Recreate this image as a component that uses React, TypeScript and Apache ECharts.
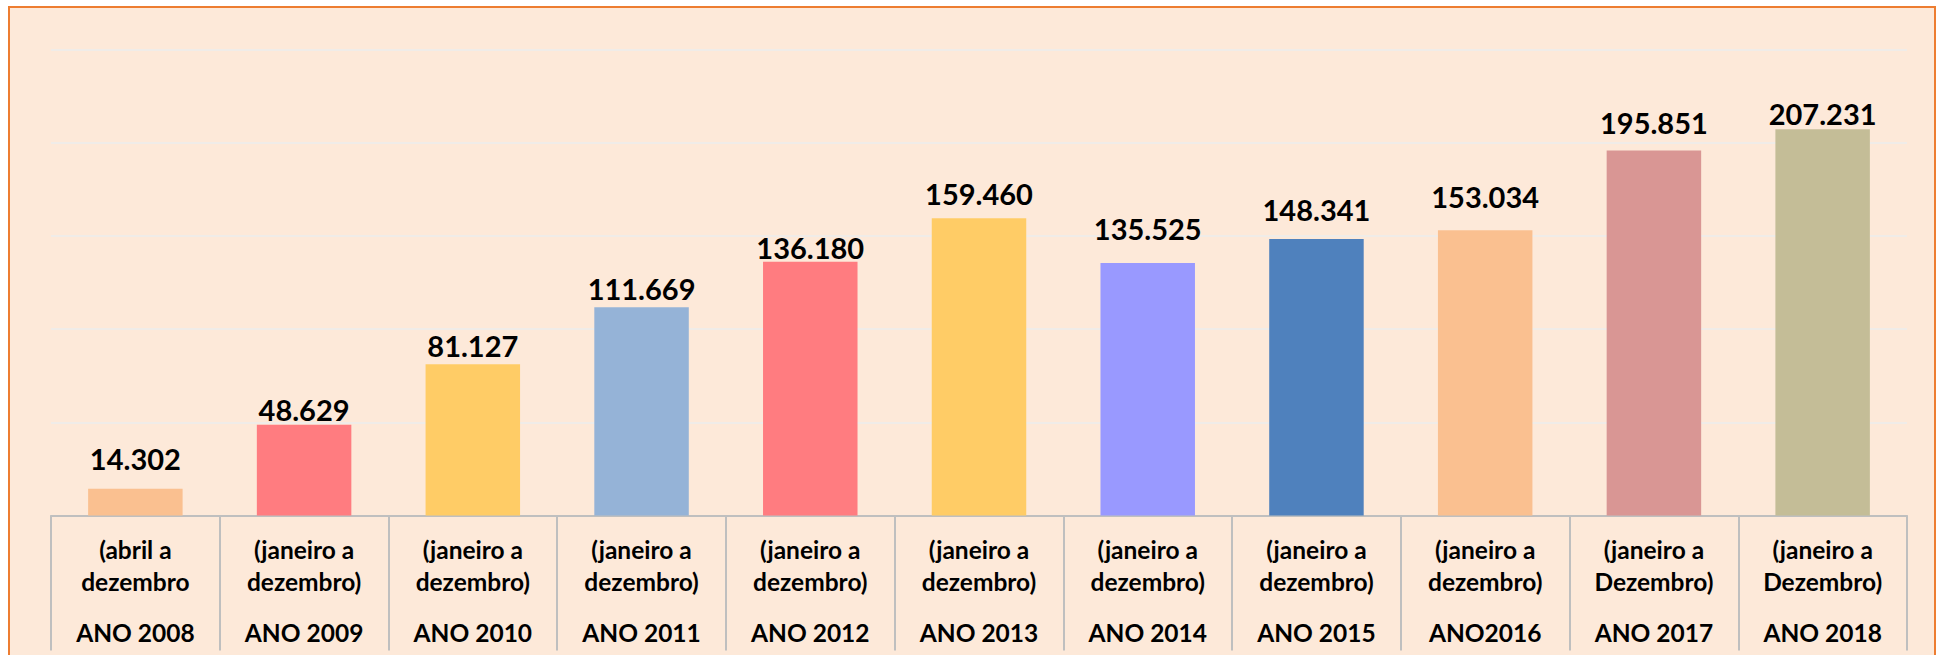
import React, { useEffect, useRef } from "react";
import * as echarts from "echarts";

const years = ["ANO 2008", "ANO 2009", "ANO 2010", "ANO 2011", "ANO 2012", "ANO 2013", "ANO 2014", "ANO 2015", "ANO2016", "ANO 2017", "ANO 2018"];
const periodLine1 = ["(abril a", "(janeiro a", "(janeiro a", "(janeiro a", "(janeiro a", "(janeiro a", "(janeiro a", "(janeiro a", "(janeiro a", "(janeiro a", "(janeiro a"];
const periodLine2 = ["dezembro", "dezembro)", "dezembro)", "dezembro)", "dezembro)", "dezembro)", "dezembro)", "dezembro)", "dezembro)", "Dezembro)", "Dezembro)"];
const values = [14302, 48629, 81127, 111669, 136180, 159460, 135525, 148341, 153034, 195851, 207231];
const barColors = ["#FAC090", "#FF7C80", "#FFCC66", "#95B3D7", "#FF7C80", "#FFCC66", "#9999FF", "#4F81BD", "#FAC090", "#D99694", "#C4BD97"];
const labelGaps = [16, 1, 4, 4, 0, 10, 20, 15, 19, 13, 1];

const fmt = (v: number) => String(v).replace(/\B(?=(\d{3})+(?!\d))/g, ".");

export default function App() {
  const ref = useRef<HTMLDivElement>(null);
  useEffect(() => {
    if (!ref.current) return;
    const chart = echarts.init(ref.current, null, { renderer: "svg" });
    chart.setOption({
      animation: false,
      backgroundColor: "#ffffff",
      graphic: [
        {
          type: "rect",
          z: -100,
          shape: { x: 9, y: 7, width: 1926, height: 700 },
          style: { fill: "#FDE9D9", stroke: "#ED7D31", lineWidth: 2 },
          silent: true,
        },
      ],
      grid: { left: 51, right: 31, top: 49.5, bottom: 139.5, containLabel: false },
      xAxis: {
        type: "category",
        data: years,
        axisLine: { show: true, lineStyle: { color: "#BFBFBF", width: 2 } },
        axisTick: { show: true, length: 135, alignWithLabel: false, lineStyle: { color: "#BFBFBF", width: 2 } },
        axisLabel: {
          interval: 0,
          margin: 18,
          formatter: (_v: string, i: number) =>
            `{a|${periodLine1[i]}}\n{a|${periodLine2[i]}}\n{b|${years[i]}}`,
          rich: {
            a: { fontFamily: "Lato", fontWeight: "bold", fontSize: 24.5, lineHeight: 32, color: "#000" },
            b: { fontFamily: "Lato", fontWeight: "bold", fontSize: 24.5, lineHeight: 70, color: "#000" },
          },
        },
      },
      yAxis: {
        type: "value",
        min: 0,
        max: 250000,
        interval: 50000,
        axisLabel: { show: false },
        axisLine: { show: false },
        axisTick: { show: false },
        splitLine: { show: true, lineStyle: { color: "#F0ECE8", width: 2 } },
      },
      series: [
        {
          type: "bar",
          barWidth: "56%",
          data: values.map((v, i) => ({
            value: v,
            itemStyle: { color: barColors[i] },
            label: { distance: labelGaps[i] },
          })),
          label: {
            show: true,
            position: "top",
            formatter: (p: any) => fmt(p.value),
            fontFamily: "Lato",
            fontWeight: "bold",
            fontSize: 29,
            color: "#000",
          },
        },
      ],
    });
    return () => chart.dispose();
  }, []);
  return <div ref={ref} style={{ position: "absolute", left: 0, top: 0, width: 1938, height: 655 }} />;
}
